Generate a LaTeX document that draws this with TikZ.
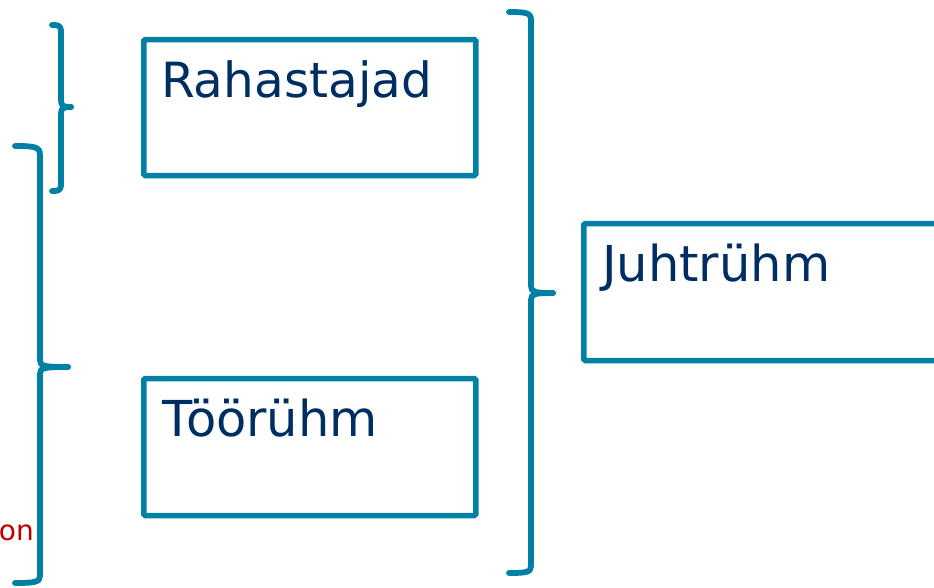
\documentclass[tikz,border=0pt]{standalone}
\usepackage{fontspec}
\setmainfont{DejaVu Sans}
\definecolor{teal1}{RGB}{0,128,164}
\definecolor{navy1}{RGB}{0,45,98}
\definecolor{red1}{RGB}{192,0,0}
\tikzset{
  box/.style={draw=teal1, line width=5.5pt, rounded corners=1.5pt, minimum width=332pt, inner sep=0pt, outer sep=0pt},
  lbl/.style={text=navy1, font=\fontsize{49.5}{60}\selectfont, inner sep=0pt, anchor=base west},
  brace/.style={draw=teal1, line width=5.8pt, line cap=round, line join=round},
}
\begin{document}
\begin{tikzpicture}[x=1pt,y=-1pt]
\useasboundingbox (0,0) rectangle (934,587);
\clip (0,0) rectangle (934,587);
% boxes
\node[box, minimum height=136pt] (rah) at (309.75,107.5) {};
\node[box, minimum height=137pt] (too) at (309.75,447) {};
\node[box, minimum width=400pt, minimum height=137pt] (juh) at (783.75,292) {};
% labels
\node[lbl, font=\fontsize{48.5}{58}\selectfont] (rahT) at (161,97) {Rahastajad};
\node[lbl] (tooT) at (162,436) {Töörühm};
\node[lbl] (juhT) at (602,281) {Juhtrühm};
\node[text=red1, font=\fontsize{28}{34}\selectfont, inner sep=0pt, anchor=base east] (onT) at (34,540) {on};
% brace 1
\coordinate (b1t) at (52,25);
\coordinate (b1m) at (71,107);
\coordinate (b1b) at (52,191);
\draw[brace] (b1t) .. controls (60,25) and (61,26) .. (61,33) -- (61,100) .. controls (61,106) and (63,107) .. (b1m);
\draw[brace] (b1m) .. controls (63,107) and (61,108) .. (61,114) -- (61,183) .. controls (61,190) and (60,191) .. (b1b);
% brace 2
\coordinate (b2t) at (15,146);
\coordinate (b2m) at (68,367);
\coordinate (b2b) at (15,583);
\draw[brace] (b2t) .. controls (35,146) and (40,147) .. (40,155) -- (40,360) .. controls (40,366) and (43,367) .. (b2m);
\draw[brace] (b2m) .. controls (43,367) and (40,368) .. (40,374) -- (40,576) .. controls (40,582) and (35,583) .. (b2b);
% brace 3
\coordinate (b3t) at (509,12);
\coordinate (b3m) at (553,293);
\coordinate (b3b) at (509,573);
\draw[brace] (b3t) .. controls (527,12) and (531,13) .. (531,20) -- (531,286) .. controls (531,292) and (534,293) .. (b3m);
\draw[brace] (b3m) .. controls (534,293) and (531,294) .. (531,300) -- (531,566) .. controls (531,572) and (527,573) .. (b3b);
\end{tikzpicture}
\end{document}
